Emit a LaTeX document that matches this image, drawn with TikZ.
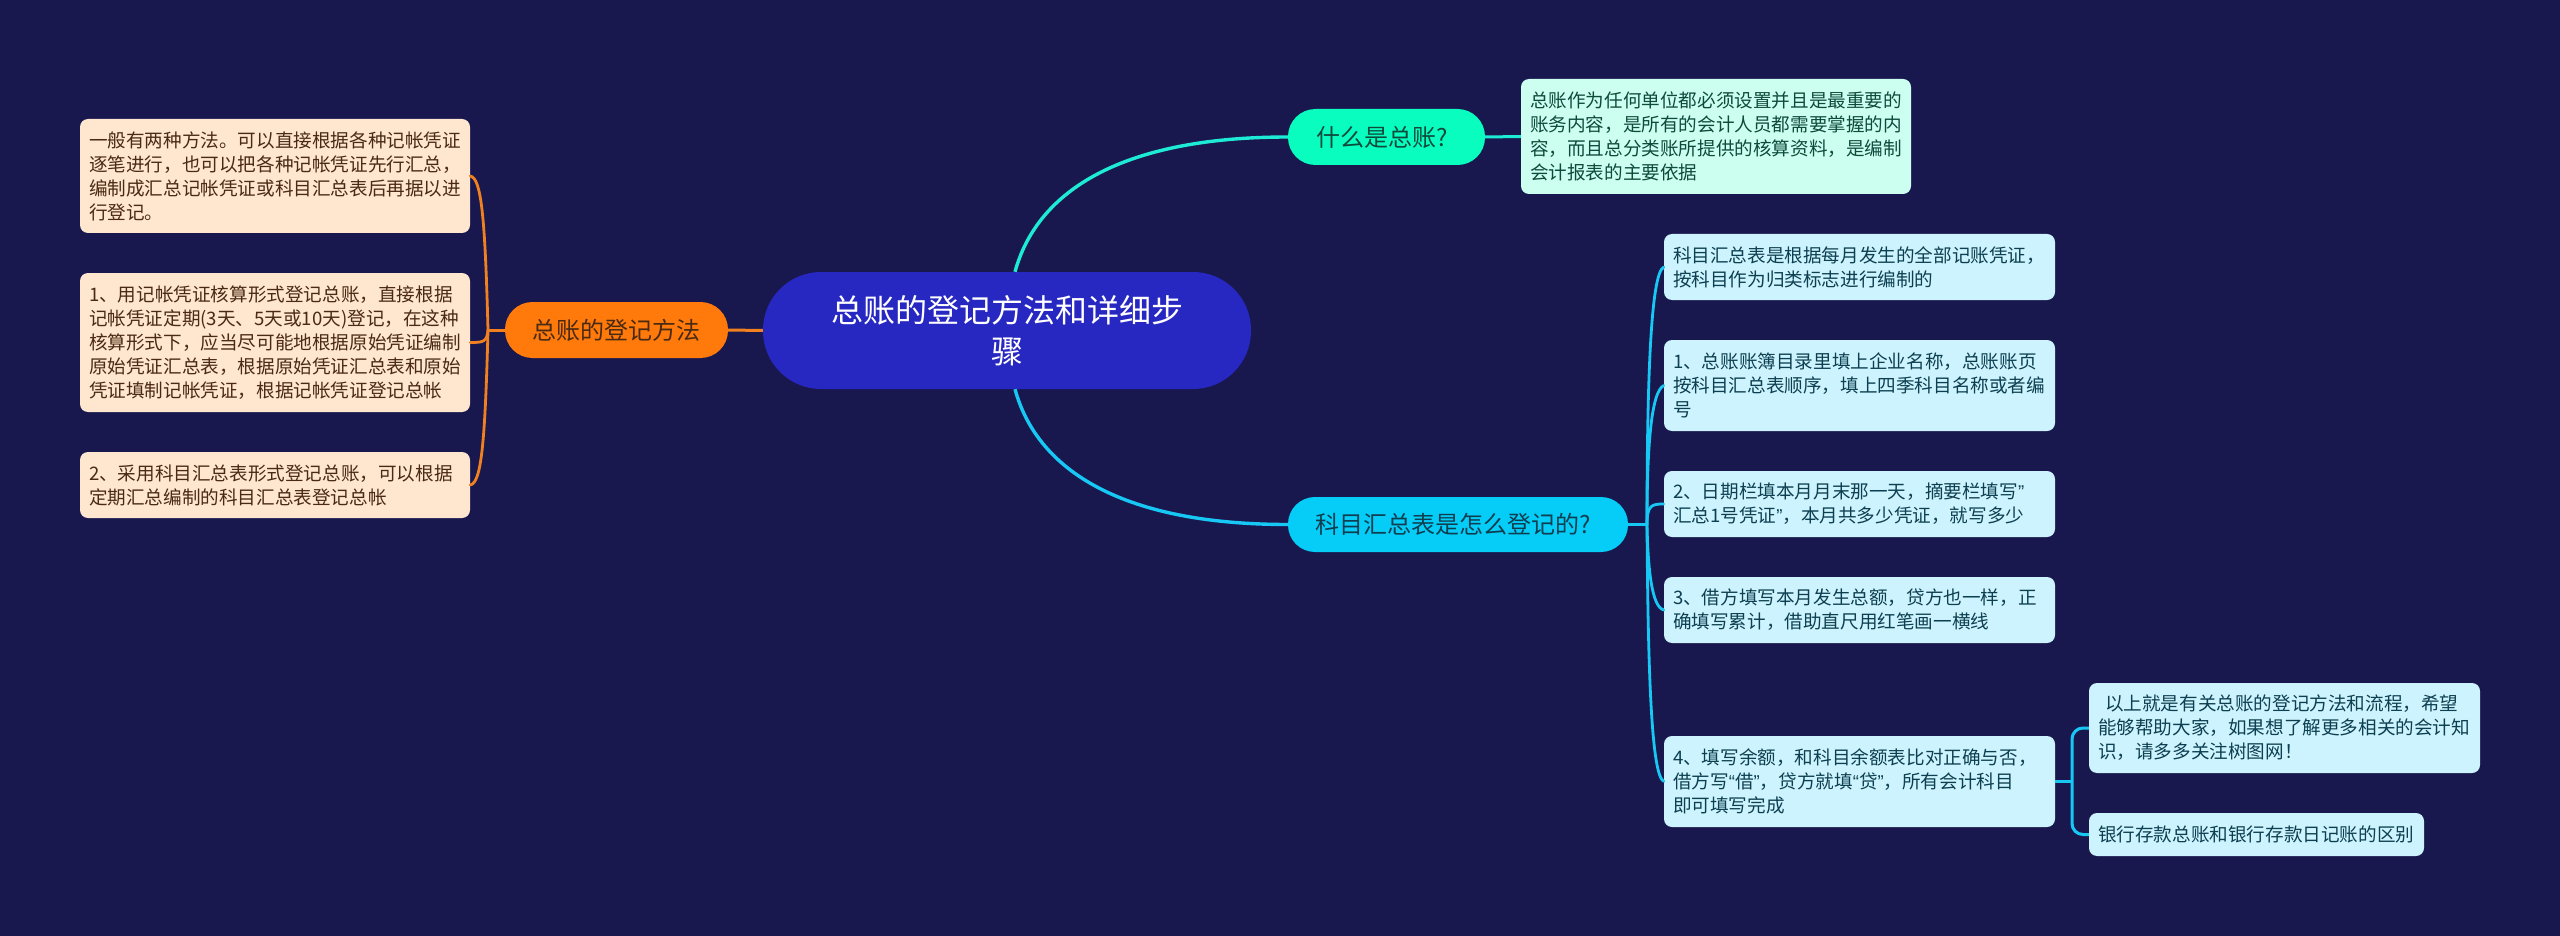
\documentclass[tikz,border=0pt]{standalone}
\usepackage{fontspec}
\setmainfont{Noto Sans CJK SC}
\newfontfamily\quotefont{Liberation Sans}
\newcommand{\lqm}{{\quotefont “}}
\newcommand{\rqm}{{\quotefont ”}}
\definecolor{bgc}{HTML}{18184F}
\definecolor{rootc}{HTML}{2727C2}
\definecolor{orangec}{HTML}{FF7A0A}
\definecolor{orangeln}{HTML}{F08020}
\definecolor{tealc}{HTML}{09FDBF}
\definecolor{tealln}{HTML}{1EEBD5}
\definecolor{cyanc}{HTML}{06CDF8}
\definecolor{cyanln}{HTML}{18C8F4}
\definecolor{orangebox}{HTML}{FFE6CF}
\definecolor{tealbox}{HTML}{CCFFF0}
\definecolor{cyanbox}{HTML}{CDF4FE}
\definecolor{orangetx}{HTML}{4A2A12}
\definecolor{tealtx}{HTML}{0E4A3C}
\definecolor{cyantx}{HTML}{0E3F50}
\tikzset{
  x=1pt,y=-1pt,
  leaf/.style n args={3}{draw=none,fill=#3,rounded corners=8pt,inner xsep=9pt,inner ysep=0pt,
    text width=#1pt-18pt,minimum height=#2pt,align=left,
    font=\fontsize{18.6pt}{24pt}\selectfont},
  pill/.style n args={3}{draw=none,fill=#3,rounded corners=#2pt/2-0.5pt,inner sep=0pt,
    minimum width=#1pt,minimum height=#2pt,align=center,
    font=\fontsize{24pt}{30pt}\selectfont},
  branch/.style={line width=2.8pt,line cap=round},
  stem/.style={line width=3pt}
}
\begin{document}
\begin{tikzpicture}
\useasboundingbox (0,0) rectangle (2560,936);
\fill[bgc] (0,0) rectangle (2560,936);

% nodes
\node[pill={488}{117}{rootc},text=white,font=\fontsize{32pt}{41pt}\selectfont,text width=390pt] (root) at (1007,330.5) {总账的登记方法和详细步\\骤};
\node[pill={223}{56}{orangec},text=orangetx] (orangep) at (616.5,330) {总账的登记方法};
\node[pill={197}{56}{tealc},text=tealtx] (tealp) at (1386.5,137) {什么是总账?\hspace*{9pt}};
\node[pill={340}{55}{cyanc},text=cyantx] (cyanp) at (1458,524.5) {科目汇总表是怎么登记的?\hspace*{9pt}};

\node[leaf={390}{114}{orangebox},text=orangetx] (la) at (275,176) {一般有两种方法。可以直接根据各种记帐凭证\\逐笔进行，也可以把各种记帐凭证先行汇总，\\编制成汇总记帐凭证或科目汇总表后再据以进\\行登记。};
\node[leaf={390}{139}{orangebox},text=orangetx] (lb) at (275,342.5) {1、用记帐凭证核算形式登记总账，直接根据\\记帐凭证定期(3天、5天或10天)登记，在这种\\核算形式下，应当尽可能地根据原始凭证编制\\原始凭证汇总表，根据原始凭证汇总表和原始\\凭证填制记帐凭证，根据记帐凭证登记总帐};
\node[leaf={390}{66}{orangebox},text=orangetx] (lc) at (275,485) {2、采用科目汇总表形式登记总账，可以根据\\定期汇总编制的科目汇总表登记总帐};

\node[leaf={390}{115}{tealbox},text=tealtx] (ta) at (1716,136.5) {总账作为任何单位都必须设置并且是最重要的\\账务内容，是所有的会计人员都需要掌握的内\\容，而且总分类账所提供的核算资料，是编制\\会计报表的主要依据};

\node[leaf={391}{66}{cyanbox},text=cyantx] (ra) at (1859.5,267) {科目汇总表是根据每月发生的全部记账凭证，\\按科目作为归类标志进行编制的};
\node[leaf={391}{91}{cyanbox},text=cyantx] (rb) at (1859.5,385.5) {1、总账账簿目录里填上企业名称，总账账页\\按科目汇总表顺序，填上四季科目名称或者编\\号};
\node[leaf={391}{66}{cyanbox},text=cyantx] (rc) at (1859.5,504) {2、日期栏填本月月末那一天，摘要栏填写\rqm\\汇总1号凭证\rqm，本月共多少凭证，就写多少};
\node[leaf={391}{66}{cyanbox},text=cyantx] (rd) at (1859.5,610) {3、借方填写本月发生总额，贷方也一样，正\\确填写累计，借助直尺用红笔画一横线};
\node[leaf={391}{91}{cyanbox},text=cyantx] (re) at (1859.5,781.5) {4、填写余额，和科目余额表比对正确与否，\\借方写\lqm 借\rqm，贷方就填\lqm 贷\rqm，所有会计科目\\即可填写完成};
\node[leaf={391}{90}{cyanbox},text=cyantx] (sa) at (2284.5,728) {\hspace*{7pt}以上就是有关总账的登记方法和流程，希望\\能够帮助大家，如果想了解更多相关的会计知\\识，请多多关注树图网！};
\node[leaf={335}{43}{cyanbox},text=cyantx] (sb) at (2256.5,834.5) {银行存款总账和银行存款日记账的区别};

% junctions
\coordinate (lj) at (488,330);
\coordinate (rj) at (1647,524.5);
\coordinate (sj) at (2072,781.5);

% root branches
\draw[tealln,line width=3.4pt] ([xshift=8pt]root.north) .. controls (1036,195) and (1115,137) .. (tealp.west);
\draw[cyanln,line width=3.4pt] ([xshift=8pt]root.south) .. controls (1036,466) and (1115,524.5) .. (cyanp.west);
\draw[tealln,stem] (tealp.east) -- (ta.west);
\draw[orangeln,stem] (root.west) -- (orangep.east);
\draw[orangeln,stem] (orangep.west) -- (lj);
\draw[cyanln,stem] (cyanp.east) -- (rj);
\draw[cyanln,stem] (re.east) -- (sj);

% orange tree
\draw[orangeln,branch] (la.east) .. controls +(11,2) and (485,215) .. (lj);
\draw[orangeln,branch] (lb.east) .. controls +(13,0) and (487,342) .. (lj);
\draw[orangeln,branch] (lc.east) .. controls +(11,-2) and (485,445) .. (lj);

% cyan tree
\draw[cyanln,branch] (ra.west) .. controls +(-13,6) and (1647,380) .. (rj);
\draw[cyanln,branch] (rb.west) .. controls +(-13,6) and (1647,450) .. (rj);
\draw[cyanln,branch] (rc.west) .. controls +(-12,0) and (1647,505) .. (rj);
\draw[cyanln,branch] (rd.west) .. controls +(-12,-3) and (1648,570) .. (rj);
\draw[cyanln,branch] (re.west) .. controls +(-12,-6) and (1648,680) .. (rj);

% sub tree
\draw[cyanln,stem,rounded corners=11pt] (sa.west) -- (sa.west -| sj) -- (sb.west -| sj) -- (sb.west);
\end{tikzpicture}
\end{document}
